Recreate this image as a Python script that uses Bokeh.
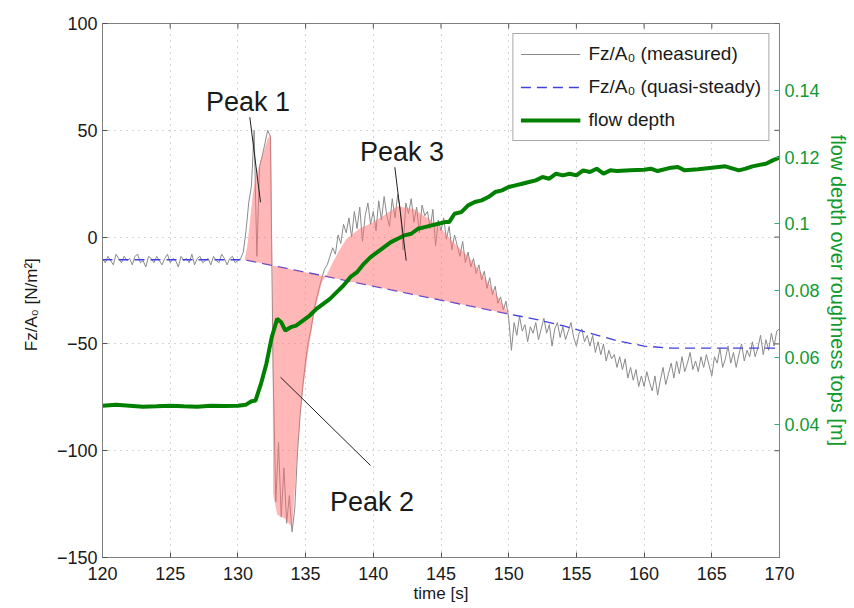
from bokeh.plotting import figure
from bokeh.models import (Range1d, LinearAxis, FixedTicker, CustomJSTickFormatter,
                          Legend, LegendItem)
from bokeh.core.properties import value
from bokeh.embed import file_html
from bokeh.resources import INLINE

# ---------------- data ----------------
# measured Fz/A0 sampled every 0.2 s from 120 s to 170 s
meas_t0, meas_dt = 120.0, 0.2
meas_v = [
    -10, -12, -9, -11, -13, -8, -10, -12, -9, -11,
    -10, -13, -9, -8, -12, -11, -14, -9, -10, -12,
    -9, -11, -13, -10, -8, -12, -10, -11, -14, -9,
    -11, -10, -12, -8, -13, -10, -9, -12, -11, -10,
    -13, -9, -11, -12, -8, -10, -13, -10, -9, -12,
    -11, -10, -7, 3, 16, 24, 50, -9, 33, 38,
    44, 50, 47, -62, -124, -96, -131, -108, -134, -121,
    -138, -127, -101, -83, -69, -58, -49, -43, -35, -29,
    -24, -19, -15, -13, -9, -5, -8, 1, -3, 6,
    2, 9, 0, 12, 4, 14, -2, 10, 16, 6,
    12, 3, 17, 8, 19, 10, 5, 18, 9, 20,
    13, -6, 16, 11, 18, 7, 14, 2, 15, 10,
    12, 4, 13, -4, 8, 3, 9, -1, 5, -6,
    1, -4, -9, -2, -12, -7, -14, -10, -17, -13,
    -20, -16, -24, -19, -27, -23, -31, -28, -34, -30,
    -38, -53, -40, -46, -37, -44, -41, -49, -42, -45,
    -40, -48, -43, -38, -45, -41, -51, -43, -40, -47,
    -42, -48, -44, -40, -47, -51, -45, -43, -49, -46,
    -51, -46, -54, -49, -55, -50, -58, -53, -57, -55,
    -61, -56, -62, -57, -66, -61, -67, -62, -70, -65,
    -70, -63, -68, -72, -65, -74, -67, -61, -69, -64,
    -59, -66, -58, -64, -56, -63, -59, -54, -62, -58,
    -63, -56, -61, -55, -60, -65, -56, -59, -52, -61,
    -57, -51, -59, -54, -61, -55, -50, -58, -53, -56,
    -49, -56, -52, -46, -55, -48, -53, -45, -51, -44,
    -43,
]
meas_t = [meas_t0 + i * meas_dt for i in range(len(meas_v))]

# quasi-steady Fz/A0
qs_t = [120, 130.5, 150, 152, 154, 156, 158, 160, 162, 170]
qs_v = [-10.6, -10.6, -36, -38.5, -41.5, -45, -48.5, -51, -52, -52]

# smoothed envelopes of the three peaks (start/end on the quasi-steady line)
peak1_t = [130.5, 130.7, 130.9, 131.1, 131.3, 131.6, 131.9, 132.2, 132.45, 132.55]
peak1_v = [-10.6, -4, 8, 20, 28, 34, 40, 46, 48, -13.3]
peak2_t = [132.55, 132.6, 132.9, 133.5, 134.0, 134.4, 134.7, 135.2, 135.7, 136.2, 136.5]
peak2_v = [-13.3, -120, -130, -132, -136, -100, -77, -53, -34, -21, -18.4]
peak3_t = [136.5, 137, 137.5, 138, 139, 140, 141, 141.8, 143, 144, 145, 146, 147, 148, 149, 150]
peak3_v = [-18.4, -12, -6, -1, 4, 7, 11, 14.5, 13, 9, 4, -3, -9, -17, -26, -36]

# flow depth over roughness tops [m]
fd_t = [120, 121, 122, 123, 124, 125, 126, 127, 128, 129, 130, 130.6, 131.0, 131.3,
        131.7, 132.1, 132.5, 132.9, 133.2, 133.5, 133.9, 134.3, 134.8, 135.3, 135.8,
        136.3, 136.8, 137.3, 137.8, 138.3, 138.8, 139.3, 139.8, 140.3, 140.8, 141.3,
        141.8, 142.3, 142.8, 143.3, 143.8, 144.3, 144.8, 145.3, 145.6, 146.0, 146.5,
        147.0, 147.5, 148.0, 148.5, 149.0, 149.5, 150.0, 150.5, 151, 151.5, 152, 152.5,
        153, 153.5, 154, 154.5, 155, 155.5, 156, 156.5, 157, 157.5, 158, 159, 160,
        160.5, 161, 162, 162.5, 163, 164, 165, 165.5, 166, 167, 167.5, 168, 169, 169.5, 170]
fd_v = [0.0455, 0.0458, 0.0455, 0.0452, 0.0453, 0.0455, 0.0453, 0.0452, 0.0455, 0.0454,
        0.0455, 0.0458, 0.0468, 0.047, 0.052, 0.058, 0.066, 0.0715, 0.0705, 0.068, 0.069,
        0.0695, 0.071, 0.0725, 0.0745, 0.076, 0.0775, 0.0795, 0.0815, 0.084, 0.0855, 0.088,
        0.090, 0.0915, 0.093, 0.0945, 0.0955, 0.0965, 0.097, 0.0985, 0.099, 0.0995, 0.100,
        0.1005, 0.1005, 0.103, 0.1035, 0.1055, 0.1065, 0.107, 0.108, 0.1095, 0.110, 0.111,
        0.1115, 0.112, 0.1125, 0.113, 0.114, 0.1135, 0.115, 0.1145, 0.115, 0.1145, 0.116,
        0.1155, 0.1165, 0.115, 0.116, 0.1158, 0.116, 0.1162, 0.1165, 0.1158, 0.1168, 0.117,
        0.116, 0.1163, 0.1168, 0.117, 0.1172, 0.116, 0.1165, 0.1172, 0.118, 0.119, 0.1198]

x_ticks = [120, 125, 130, 135, 140, 145, 150, 155, 160, 165, 170]
y_ticks = [-150, -100, -50, 0, 50, 100]
depth_ticks = [0.04, 0.06, 0.08, 0.1, 0.12, 0.14]

peak_labels = ["Peak 1", "Peak 2", "Peak 3"]

# ---------------- figure ----------------
FONT = "Liberation Sans"
GREEN_TXT = "#109a30"
TICK_COL = "#505050"

p = figure(width=854, height=608, x_range=Range1d(120, 170), y_range=Range1d(-150, 100),
           output_backend="svg", toolbar_location=None,
           min_border_left=102, min_border_right=75, min_border_top=23, min_border_bottom=51)
p.extra_y_ranges = {"depth": Range1d(0, 0.16)}
p.background_fill_color = "white"
p.border_fill_color = "white"
p.outline_line_color = "#808080"

r_meas = p.line(meas_t, meas_v, line_color="#8a8a8a", line_width=1)
r_qs = p.line(qs_t, qs_v, line_color="#4040dd", line_width=1.3, line_dash="10 6")
p.patches([peak1_t, peak2_t, peak3_t], [peak1_v, peak2_v, peak3_v],
          fill_color="#ff7070", fill_alpha=0.5, line_color=None)
r_fd = p.line(fd_t, fd_v, y_range_name="depth", line_color="#008000", line_width=4)

# mirrored inward ticks on the top edge (x ticks) and right edge (left-scale ticks)
p.segment(x0=x_ticks, y0=[100] * len(x_ticks), x1=x_ticks, y1=[97.7] * len(x_ticks),
          line_color=TICK_COL, line_width=1)
p.segment(x0=[170] * len(y_ticks), y0=y_ticks, x1=[169.63] * len(y_ticks), y1=y_ticks,
          line_color=TICK_COL, line_width=1)

# annotations
lab_x = [130.75, 139.9, 142.12]
lab_y = [63.2, -124.1, 39.7]
p.text(x=lab_x, y=lab_y, text=peak_labels, text_font=value(FONT),
       text_font_size=value("27px"), text_align="center", text_baseline="alphabetic",
       text_color="#1a1a1a")
p.segment(x0=[130.88, 133.15, 141.59], y0=[56.1, -65.6, 32.7],
          x1=[131.67, 139.79, 142.43], y1=[16.3, -106.9, -11.0],
          line_color="#202020", line_width=1)

# axes
p.xaxis.ticker = FixedTicker(ticks=x_ticks)
p.yaxis.ticker = FixedTicker(ticks=y_ticks)
p.yaxis.formatter = CustomJSTickFormatter(
    code="return tick < 0 ? '\u2212' + Math.abs(tick) : String(tick);")
for ax in (p.xaxis[0], p.yaxis[0]):
    ax.major_tick_in = 5
    ax.major_tick_out = 0
    ax.minor_tick_line_color = None
    ax.axis_line_color = "#808080"
    ax.major_tick_line_color = TICK_COL
    ax.major_label_text_font = FONT
    ax.major_label_text_font_size = "18px"
    ax.major_label_text_color = "#1a1a1a"
    ax.axis_label_text_font = FONT
    ax.axis_label_text_font_style = "normal"
    ax.axis_label_text_color = "#1a1a1a"
p.xaxis.major_label_standoff = 9
p.xaxis.axis_label = "time [s]"
p.xaxis.axis_label_text_font_size = "17px"
p.xaxis.axis_label_standoff = 1
p.yaxis.major_label_standoff = 5
p.yaxis.axis_label = "Fz/A\u2080 [N/m\u00b2]" + "\u00a0" * 6
p.yaxis.axis_label_text_font_size = "17px"
p.yaxis.axis_label_standoff = 13

r_ax = LinearAxis(y_range_name="depth", ticker=FixedTicker(ticks=depth_ticks),
                  formatter=CustomJSTickFormatter(code="return parseFloat(tick.toFixed(2)).toString();"),
                  axis_label="flow depth over roughness tops [m]")
r_ax.major_tick_in = 5
r_ax.major_tick_out = 0
r_ax.minor_tick_line_color = None
r_ax.axis_line_color = "#30b070"
r_ax.major_tick_line_color = "#30b070"
r_ax.major_label_text_font = FONT
r_ax.major_label_text_font_size = "18px"
r_ax.major_label_text_color = GREEN_TXT
r_ax.major_label_standoff = 5
r_ax.axis_label_text_font = FONT
r_ax.axis_label_text_font_style = "normal"
r_ax.axis_label_text_font_size = "20px"
r_ax.axis_label_text_color = GREEN_TXT
r_ax.axis_label_standoff = 4
p.add_layout(r_ax, "right")

# grid
for g in (p.xgrid[0], p.ygrid[0]):
    g.grid_line_color = "#a8a8a8"
    g.grid_line_dash = "1 5"
    g.grid_line_width = 1

# legend
legend = Legend(items=[
    LegendItem(label="Fz/A\u2080 (measured)", renderers=[r_meas]),
    LegendItem(label="Fz/A\u2080 (quasi-steady)", renderers=[r_qs]),
    LegendItem(label="flow depth", renderers=[r_fd]),
])
legend.location = "top_right"
legend.margin = 10
legend.padding = 7
legend.spacing = 7
legend.glyph_width = 60
legend.glyph_height = 26
legend.label_height = 26
legend.label_standoff = 8
legend.label_text_font = FONT
legend.label_text_font_size = "19px"
legend.label_text_color = "#1a1a1a"
legend.border_line_color = "#505050"
legend.border_line_width = 1
legend.background_fill_color = "white"
legend.background_fill_alpha = 1
p.add_layout(legend)

open("out.html", "w", encoding="utf-8").write(file_html(p, INLINE))
